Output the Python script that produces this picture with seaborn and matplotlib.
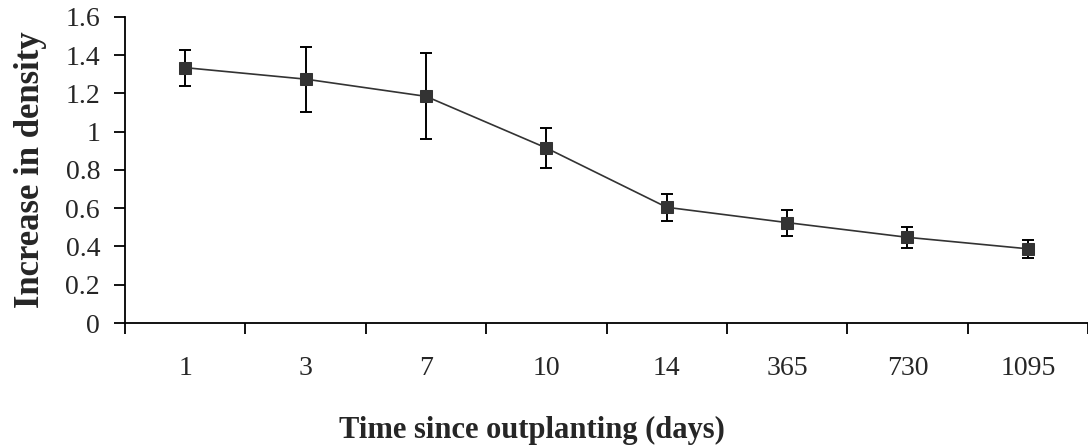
import numpy as np
import pandas as pd
import seaborn as sns
import matplotlib.pyplot as plt

# Days since outplanting and mean increase in density with error
days = ["1", "3", "7", "10", "14", "365", "730", "1095"]
density = [1.335, 1.275, 1.185, 0.915, 0.605, 0.525, 0.448, 0.388]
error = [0.095, 0.17, 0.225, 0.107, 0.072, 0.068, 0.054, 0.048]

sns.set_theme(style="white")
plt.rcParams["font.family"] = ["Liberation Serif", "DejaVu Serif"]

df = pd.DataFrame({"pos": np.arange(len(days)), "days": days, "density": density, "err": error})

fig = plt.figure(figsize=(10.88, 4.47), dpi=100)
ax = fig.add_axes([0.115, 0.2774, 0.885, 0.6846])

ax.errorbar(df["pos"], df["density"], yerr=df["err"], fmt="none", ecolor="black",
            elinewidth=1.4, capsize=4.5, capthick=1.4, zorder=2)
sns.lineplot(data=df, x="pos", y="density", ax=ax, color="#333333", linewidth=1.2,
             marker="s", markersize=8, markeredgecolor="#333333", zorder=3)

ax.set_xlim(-0.5, len(days) - 0.5)
ax.set_ylim(0, 1.6)
ax.set_yticks(np.arange(0, 1.61, 0.2))
ax.set_yticklabels(["0", "0.2", "0.4", "0.6", "0.8", "1", "1.2", "1.4", "1.6"])

# Category labels centered, ticks at category boundaries
ax.set_xticks(np.arange(len(days)))
ax.set_xticklabels(days)
ax.tick_params(axis="x", which="major", length=0, pad=24, labelsize=20)
ax.set_xticks(np.arange(len(days) + 1) - 0.5, minor=True)
ax.tick_params(axis="x", which="minor", length=8, width=1.3, direction="out", color="black", bottom=True)
ax.tick_params(axis="y", length=8, width=1.3, direction="out", color="black", left=True, labelsize=20, pad=10)

for s in ["top", "right"]:
    ax.spines[s].set_visible(False)
for s in ["left", "bottom"]:
    ax.spines[s].set_color("black")
    ax.spines[s].set_linewidth(1.3)

ax.set_xlabel("Time since outplanting (days)", fontsize=22, fontweight="bold", va="baseline")
ax.xaxis.set_label_coords(0.423, -0.376)
ax.set_ylabel("Increase in density", fontsize=25, fontweight="bold")
ax.yaxis.set_label_coords(-0.081, 0.5)
ax.grid(False)

fig.savefig("out.png", dpi=100)
